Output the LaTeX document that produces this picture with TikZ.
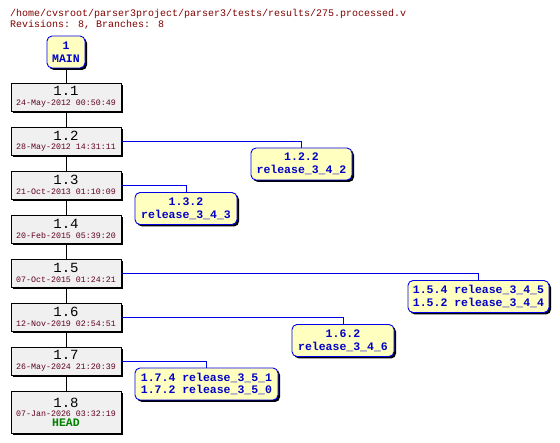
\documentclass[tikz,border=0pt]{standalone}
\usepackage{fontspec}
\setmainfont{Liberation Mono}
\usetikzlibrary{shadows}
\definecolor{titlered}{RGB}{128,0,0}
\definecolor{datered}{RGB}{96,0,32}
\definecolor{revgray}{RGB}{240,240,240}
\definecolor{tagyellow}{RGB}{255,255,192}
\definecolor{tagblue}{RGB}{0,0,200}
\definecolor{linkblue}{RGB}{0,0,230}
\definecolor{headgreen}{RGB}{0,128,0}
\newcommand{\revlabel}[2]{{\fontsize{14}{14}\selectfont\color{black}#1}\\#2}

\begin{document}
\begin{tikzpicture}[x=1pt, y=-1pt,
	every node/.style={inner sep=0pt},
	blackshadow/.style={drop shadow={shadow xshift=2pt, shadow yshift=-2pt, fill=black, opacity=1}},
	revbox/.style={draw=black, line width=0.9pt, fill=revgray, blackshadow, minimum width=110pt, minimum height=28pt, align=center,
		font=\fontsize{8.3}{9.5}\selectfont\color{datered}},
	tagbox/.style={draw=linkblue, line width=0.9pt, fill=tagyellow, rounded corners=5pt, blackshadow, minimum height=32pt, align=center,
		text=tagblue, font=\bfseries\fontsize{11.5}{12.7}\selectfont},
	trunk/.style={draw=black, line width=0.9pt},
	branchline/.style={draw=linkblue, line width=0.9pt}]
	\useasboundingbox (0,0) rectangle (560,443);
	% heading
	\node[anchor=base west, text=titlered, font=\fontsize{10}{12}\selectfont] (title) at (10,17) {/home/cvsroot/parser3project/parser3/tests/results/275.processed.v};
	\node[anchor=base west, text=titlered, font=\fontsize{10}{12}\selectfont] (info) at (10,28) {Revisions: 8, Branches: 8};
	% trunk
	\node[tagbox, minimum width=38pt, font=\bfseries\fontsize{11.5}{13.5}\selectfont] (main) at (66,52) {1\\MAIN};
	\node[revbox] (r11) at (66,97) {\revlabel{1.1}{24-May-2012 00:50:49}};
	\node[revbox] (r12) at (66,141) {\revlabel{1.2}{28-May-2012 14:31:11}};
	\node[revbox] (r13) at (66,185) {\revlabel{1.3}{21-Oct-2013 01:10:09}};
	\node[revbox] (r14) at (66,229) {\revlabel{1.4}{20-Feb-2015 05:39:20}};
	\node[revbox] (r15) at (66,273) {\revlabel{1.5}{07-Oct-2015 01:24:21}};
	\node[revbox] (r16) at (66,317) {\revlabel{1.6}{12-Nov-2019 02:54:51}};
	\node[revbox] (r17) at (66,361) {\revlabel{1.7}{26-May-2024 21:20:39}};
	\node[revbox, minimum height=42pt] (r18) at (66,412) {\revlabel{1.8}{07-Jan-2026 03:32:19}\\{\bfseries\fontsize{11.5}{12}\selectfont\color{headgreen}HEAD}};
	\draw[trunk] (main) -- (r11);
	\foreach \a/\b in {r11/r12, r12/r13, r13/r14, r14/r15, r15/r16, r16/r17, r17/r18} {
		\draw[trunk] (\a) -- (\b);
	}
	% branches
	\node[tagbox, minimum width=101pt] (b122) at (301.5,164) {1.2.2\\release\_3\_4\_2};
	\node[tagbox, minimum width=102pt] (b132) at (186,208.5) {1.3.2\\release\_3\_4\_3};
	\node[tagbox, minimum width=141pt] (b15) at (478.5,296.5) {1.5.4 release\_3\_4\_5\\1.5.2 release\_3\_4\_4};
	\node[tagbox, minimum width=102pt] (b162) at (343,340.5) {1.6.2\\release\_3\_4\_6};
	\node[tagbox, minimum width=143pt] (b17) at (206.5,384) {1.7.4 release\_3\_5\_1\\1.7.2 release\_3\_5\_0};
	\draw[branchline] (r12.east) -| (b122.north);
	\draw[branchline] (r13.east) -| (b132.north);
	\draw[branchline] (r15.east) -| (b15.north);
	\draw[branchline] (r16.east) -| (b162.north);
	\draw[branchline] (r17.east) -| (b17.north);
\end{tikzpicture}
\end{document}
